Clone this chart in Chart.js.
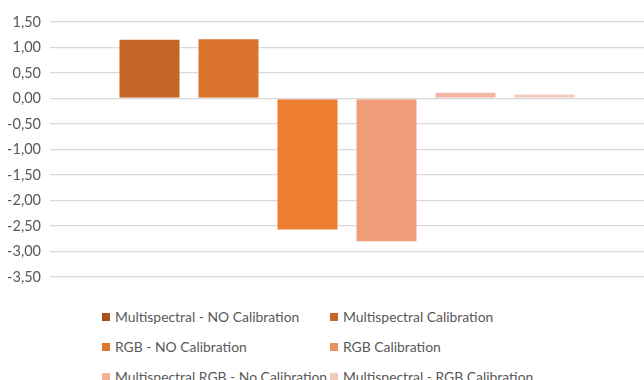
<!DOCTYPE html>
<html>
<head>
<meta charset="utf-8">
<script src="https://cdn.jsdelivr.net/npm/chart.js@4/dist/chart.umd.min.js"></script>
<style>
  html, body { margin: 0; padding: 0; background: #fff; }
  #wrap { position: relative; width: 644px; height: 380px; overflow: hidden; }
  #chart { position: absolute; left: 0; top: 0; }
  #legend {
    position: absolute; left: 102px; top: 307px;
    display: grid; grid-template-columns: 228px 260px; row-gap: 11px;
    font-family: Lato, "Open Sans", sans-serif; font-size: 13.9px; color: #595959;
  }
  .item { display: flex; align-items: center; white-space: nowrap; height: 19px; }
  .sw { width: 8px; height: 8px; margin-right: 5px; flex: none; }
</style>
</head>
<body>
<div id="wrap">
  <canvas id="chart" width="644" height="300"></canvas>
  <div id="legend"></div>
</div>
<script>
// Series names, one bar each
const seriesNames = [
  "Multispectral - NO Calibration",
  "Multispectral Calibration",
  "RGB - NO Calibration",
  "RGB Calibration",
  "Multispectral RGB - No Calibration",
  "Multispectral - RGB Calibration"
];
const seriesValues = [1.17, 1.18, -2.59, -2.82, 0.13, 0.10];
const barColors = ["#C46628", "#DA742E", "#ED7D31", "#F09D7A", "#F2B7A2", "#F5CDBF"];
const legendColors = ["#A9521E", "#C4652A", "#E0772F", "#EE8F63", "#F2B097", "#F5CABA"];
const yMin = -3.5, yMax = 1.5, yStep = 0.5;

const datasets = seriesNames.map((name, i) => ({
  label: name,
  data: [seriesValues[i]],
  backgroundColor: barColors[i],
  borderColor: "rgba(255,255,255,0.55)",
  borderWidth: 1,
  categoryPercentage: 0.798,
  barPercentage: 0.785
}));

new Chart(document.getElementById("chart"), {
  type: "bar",
  data: { labels: [""], datasets },
  options: {
    responsive: false,
    animation: false,
    layout: { padding: { top: 22, bottom: 23, left: 0, right: 0 } },
    plugins: { legend: { display: false }, tooltip: { enabled: false } },
    scales: {
      x: { display: false },
      y: {
        min: yMin, max: yMax,
        afterFit: (s) => { s.width = 50; },
        border: { display: false },
        grid: { color: "#D9D9D9", lineWidth: 1.3, drawTicks: false },
        ticks: {
          stepSize: yStep,
          padding: 9,
          color: "#595959",
          font: { family: "Lato, 'Open Sans', sans-serif", size: 14.5 },
          callback: (v) => v.toFixed(2).replace(".", ",")
        }
      }
    }
  }
});

// Two-column legend below the plot
const legend = document.getElementById("legend");
seriesNames.forEach((name, i) => {
  const item = document.createElement("div");
  item.className = "item";
  const sw = document.createElement("span");
  sw.className = "sw";
  sw.style.background = legendColors[i];
  const txt = document.createElement("span");
  txt.textContent = name;
  item.appendChild(sw);
  item.appendChild(txt);
  legend.appendChild(item);
});
</script>
</body>
</html>
